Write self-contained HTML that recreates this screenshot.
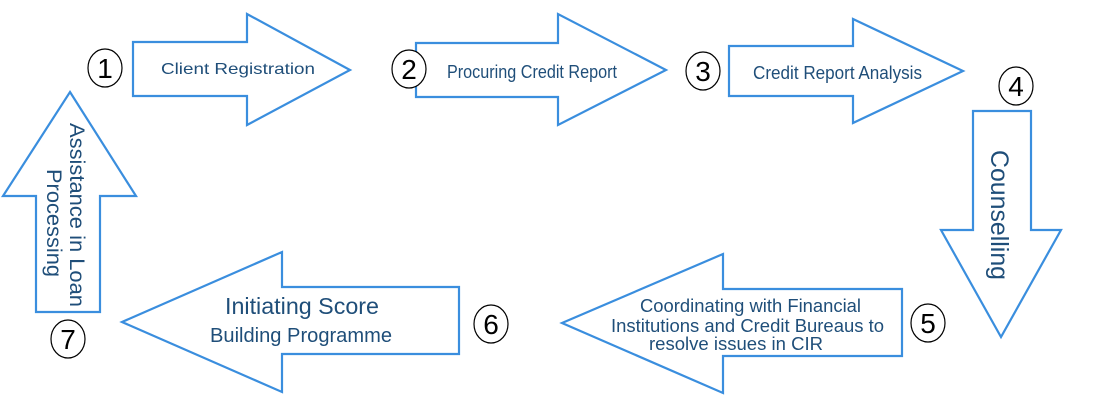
<!DOCTYPE html>
<html><head><meta charset="utf-8"><style>html,body{margin:0;padding:0;background:#fff}svg{display:block}</style></head>
<body>
<svg width="1097" height="400" xmlns="http://www.w3.org/2000/svg" font-family="Liberation Sans, Arial, sans-serif">
<g fill="#fff" stroke="#3a8ede" stroke-width="2.2" stroke-linejoin="miter">
<polygon points="133,42 247,42 247,14 350,70 247,125 247,96 133,96"/>
<polygon points="416,43 558,43 558,14 666,70 558,125 558,97 416,97"/>
<polygon points="729,46 853,46 853,19 963,71 853,123 853,96 729,96"/>
<polygon points="973,111 1031,111 1031,230 1061,230 1001,337 941,230 973,230"/>
<polygon points="902,289 723,289 723,254 562,323 723,393 723,356 902,356"/>
<polygon points="459,287 282,287 282,252 122,322 282,392 282,354 459,354"/>
<polygon points="70,92 136,196 100,196 100,312 36,312 36,196 3,196"/>
</g>
<g fill="#fff" stroke="#000" stroke-width="1.2">
<ellipse cx="105" cy="68" rx="17" ry="19"/>
<ellipse cx="409" cy="69" rx="17" ry="19"/>
<ellipse cx="703" cy="71" rx="17" ry="19"/>
<ellipse cx="1016" cy="86" rx="17" ry="19"/>
<ellipse cx="928" cy="323" rx="17" ry="19"/>
<ellipse cx="491" cy="324" rx="17" ry="19"/>
<ellipse cx="68" cy="339" rx="17" ry="19"/>
</g>
<g font-size="28" text-anchor="middle" fill="#000">
<text x="105" y="78">1</text>
<text x="409" y="79">2</text>
<text x="703" y="81">3</text>
<text x="1016" y="96">4</text>
<text x="928" y="333">5</text>
<text x="491" y="334">6</text>
<text x="68" y="349">7</text>
</g>
<g fill="#1f4e79" lengthAdjust="spacingAndGlyphs">
<text x="161" y="74" font-size="16" textLength="154" lengthAdjust="spacingAndGlyphs">Client Registration</text>
<text x="447" y="78" font-size="18" textLength="170" lengthAdjust="spacingAndGlyphs">Procuring Credit Report</text>
<text x="753" y="79" font-size="18" textLength="169" lengthAdjust="spacingAndGlyphs">Credit Report Analysis</text>
<text x="640" y="312" font-size="18" textLength="221" lengthAdjust="spacingAndGlyphs">Coordinating with Financial</text>
<text x="611" y="332" font-size="18" textLength="273" lengthAdjust="spacingAndGlyphs">Institutions and Credit Bureaus to</text>
<text x="649" y="350" font-size="18" textLength="174" lengthAdjust="spacingAndGlyphs">resolve issues in CIR</text>
<text x="225" y="314" font-size="23" textLength="154" lengthAdjust="spacingAndGlyphs">Initiating Score</text>
<text x="210" y="342" font-size="20" textLength="182" lengthAdjust="spacingAndGlyphs">Building Programme</text>
<text transform="translate(991,150) rotate(90)" font-size="25" textLength="130" lengthAdjust="spacingAndGlyphs">Counselling</text>
<text transform="translate(70,123) rotate(90)" font-size="21" textLength="184" lengthAdjust="spacingAndGlyphs">Assistance in Loan</text>
<text transform="translate(47,169) rotate(90)" font-size="21" textLength="108" lengthAdjust="spacingAndGlyphs">Processing</text>
</g>
</svg>
</body></html>
